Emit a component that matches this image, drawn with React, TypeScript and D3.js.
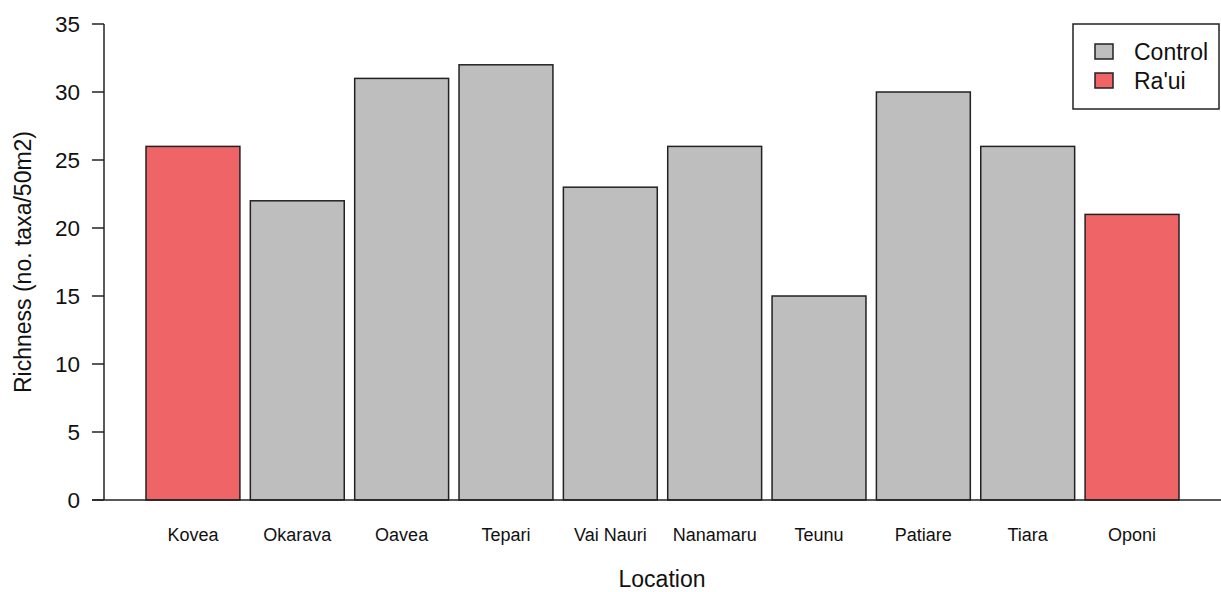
import React from "react";
import * as d3 from "d3";

const locations = ["Kovea", "Okarava", "Oavea", "Tepari", "Vai Nauri", "Nanamaru", "Teunu", "Patiare", "Tiara", "Oponi"];
const richness = [26, 22, 31, 32, 23, 26, 15, 30, 26, 21];
const groups = ["Ra'ui", "Control", "Control", "Control", "Control", "Control", "Control", "Control", "Control", "Ra'ui"];
const yTicks = [0, 5, 10, 15, 20, 25, 30, 35];
const legendItems = ["Control", "Ra'ui"];

const W = 1221;
const H = 592;
const colors: Record<string, string> = { Control: "#BEBEBE", "Ra'ui": "#EE6467" };
const FONT = "'Liberation Sans', Arial, Helvetica, sans-serif";

export default function App() {
  const x = d3.scaleBand<string>().domain(locations).range([146, 1179]).paddingInner(0.1).paddingOuter(0);
  const y = d3.scaleLinear().domain([0, 35]).range([500, 24]);
  const axisX = 104;

  return (
    <svg width={W} height={H} style={{ position: "absolute", left: 0, top: 0, background: "#fff" }} fontFamily={FONT}>
      {/* bars */}
      {locations.map((loc, i) => (
        <rect
          key={loc}
          x={x(loc)!}
          y={y(richness[i])}
          width={x.bandwidth()}
          height={y(0) - y(richness[i])}
          fill={colors[groups[i]]}
          stroke="#222"
          strokeWidth={1.5}
        />
      ))}
      {/* x axis baseline */}
      <line x1={92} x2={W} y1={y(0)} y2={y(0)} stroke="#222" strokeWidth={1.5} />
      {/* y axis */}
      <line x1={axisX} x2={axisX} y1={y(35)} y2={y(0)} stroke="#222" strokeWidth={1.5} />
      {yTicks.map((t) => (
        <g key={t}>
          <line x1={axisX - 12} x2={axisX} y1={y(t)} y2={y(t)} stroke="#222" strokeWidth={1.5} />
          <text x={80} y={y(t)} textAnchor="end" dominantBaseline="central" fontSize={22.5} fill="#111">
            {t}
          </text>
        </g>
      ))}
      {/* category labels */}
      {locations.map((loc) => (
        <text key={loc} x={x(loc)! + x.bandwidth() / 2} y={535} textAnchor="middle" dominantBaseline="central" fontSize={18} fill="#111">
          {loc}
        </text>
      ))}
      {/* axis titles */}
      <text x={662} y={579} textAnchor="middle" dominantBaseline="central" fontSize={23} fill="#111">
        Location
      </text>
      <text transform={`translate(23,262) rotate(-90)`} textAnchor="middle" dominantBaseline="central" fontSize={23} fill="#111">
        Richness (no. taxa/50m2)
      </text>
      {/* legend */}
      <rect x={1073} y={24} width={146} height={85} fill="#fff" stroke="#222" strokeWidth={1.5} />
      {legendItems.map((g, i) => (
        <g key={g}>
          <rect x={1095} y={44 + i * 29} width={18} height={15} fill={colors[g]} stroke="#222" strokeWidth={1.5} />
          <text x={1134} y={52 + i * 29} dominantBaseline="central" fontSize={23} fill="#111">
            {g}
          </text>
        </g>
      ))}
    </svg>
  );
}
